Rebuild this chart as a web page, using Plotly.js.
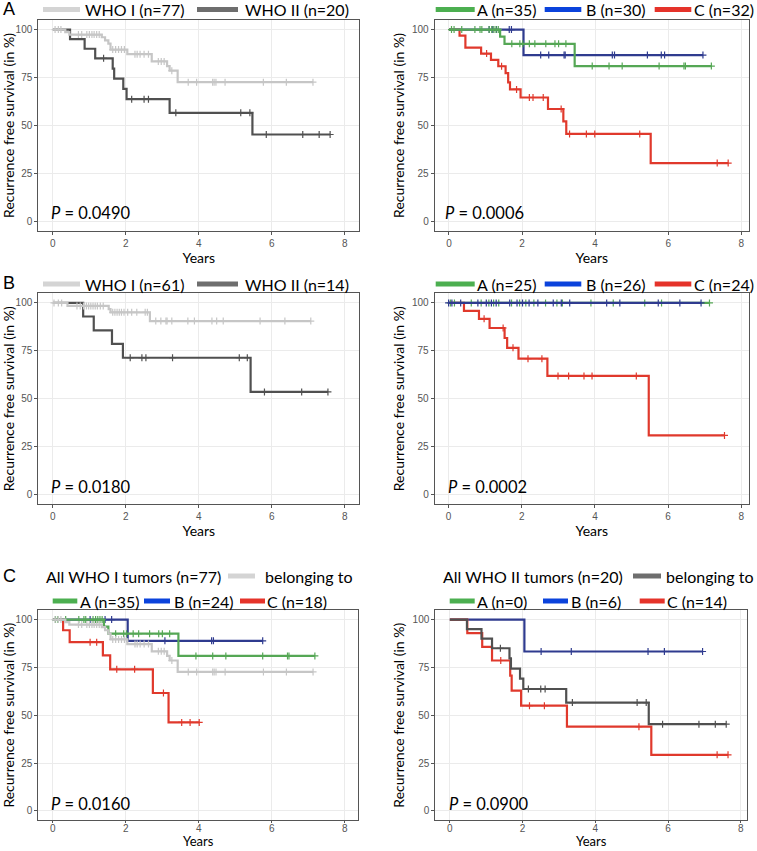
<!DOCTYPE html>
<html><head><meta charset="utf-8">
<script src="https://cdn.plot.ly/plotly-3.0.1.min.js"></script>
<style>html,body{margin:0;padding:0;background:#fff}#chart{width:757px;height:851px}</style>
</head><body><div id="chart"></div>
<script>
// ---------------- DATA (years, % recurrence free) ----------------
// WHO I, all tumours (n=77) - panels A-left and C-left
const who1Times  = [0.34, 0.45, 1.34, 1.43, 1.52, 1.58, 2.04, 2.71, 3.13, 3.20, 3.42];
const who1Surv   = [98.7, 97.4, 96.0, 94.4, 92.7, 89.6, 87.2, 83.4, 81.0, 78.6, 72.6];
const who1Censor = [0.06, 0.15, 0.22, 0.70, 0.79, 0.93, 1.00, 1.07, 1.13, 1.20, 1.27, 1.64, 1.72, 1.80, 1.88, 1.96,
                    2.25, 2.31, 2.39, 2.50, 2.62, 2.89, 2.97, 3.05, 3.26, 3.71, 3.94, 4.38, 4.42, 4.47, 4.72, 5.77, 6.40, 7.13];
// WHO II, all tumours (n=20) - panels A-left and C-right
const who2Times  = [0.47, 0.87, 1.16, 1.64, 1.68, 1.93, 2.02, 3.20, 5.47];
const who2Surv   = [95.0, 90.0, 85.0, 79.7, 74.4, 69.1, 63.7, 56.6, 45.3];
const who2Censor = [1.39, 2.16, 2.50, 2.62, 3.37, 5.15, 5.40, 5.85, 6.85, 7.30, 7.60];
// Groups A (n=35), B (n=30), C (n=32) - panel A-right
const grpATimes  = [1.40, 1.52, 3.44];
const grpASurv   = [96.3, 92.6, 81.0];
const grpACensor = [0.07, 0.14, 0.35, 0.71, 0.85, 0.90, 1.10, 1.17, 1.23, 1.29, 1.35, 1.72, 1.94, 2.02, 2.20, 2.35,
                    2.65, 2.90, 3.00, 3.20, 3.92, 4.38, 4.74, 5.75, 6.43, 6.47, 7.18];
const grpBTimes  = [2.04];
const grpBSurv   = [86.7];
const grpBCensor = [1.10, 1.20, 1.30, 1.65, 1.71, 2.51, 2.73, 3.15, 3.18, 4.47, 4.53, 5.43, 5.81, 5.90, 6.95];
const grpCTimes  = [0.29, 0.45, 0.88, 1.15, 1.35, 1.55, 1.62, 1.67, 1.96, 2.71, 3.13, 3.21, 5.52];
const grpCSurv   = [96.9, 90.6, 87.5, 84.2, 80.9, 77.3, 72.5, 68.8, 64.6, 58.6, 52.2, 45.6, 30.4];
const grpCCensor = [1.03, 1.44, 1.85, 2.20, 2.30, 2.58, 3.07, 3.30, 3.76, 3.99, 5.22, 7.34, 7.64];
// Panel B-left: WHO I (n=61), WHO II (n=14)
const bWho1Times  = [0.40, 1.53, 1.58, 2.66];
const bWho1Surv   = [98.4, 96.8, 95.1, 90.5];
const bWho1Censor = [0.03, 0.15, 0.24, 0.66, 0.75, 0.84, 0.92, 0.98, 1.04, 1.10, 1.16, 1.22, 1.30, 1.38, 1.64, 1.70,
                     1.76, 1.82, 1.88, 1.95, 2.05, 2.16, 2.30, 2.53, 2.59, 2.82, 2.96, 3.10, 3.13, 3.26, 3.70, 3.88,
                     4.36, 4.49, 4.67, 5.68, 6.36, 7.07];
const bWho2Times  = [0.83, 1.12, 1.62, 1.92, 5.42];
const bWho2Surv   = [92.9, 85.7, 78.6, 71.4, 53.6];
const bWho2Censor = [2.12, 2.44, 2.55, 3.28, 5.11, 5.33, 5.80, 6.82, 7.54];
// Panel B-right: A (n=25), B (n=26), C (n=24)
const bGrpATimes  = [];
const bGrpASurv   = [];
const bGrpACensor = [0.05, 0.16, 0.62, 0.89, 1.10, 1.23, 1.37, 1.72, 1.94, 2.11, 2.33, 2.65, 2.96, 3.11, 3.89, 4.50,
                     5.36, 5.82, 7.13];
const bGrpBTimes  = [];
const bGrpBSurv   = [];
const bGrpBCensor = [0.00, 0.09, 0.33, 0.80, 1.03, 1.17, 1.30, 1.67, 1.87, 2.02, 2.20, 2.44, 2.86, 3.08, 3.31, 4.32,
                     4.68, 5.73, 6.32, 6.90];
const bGrpCTimes  = [0.42, 0.83, 1.12, 1.53, 1.60, 1.91, 2.70, 5.47];
const bGrpCSurv   = [95.8, 91.7, 86.9, 81.7, 76.6, 70.9, 61.9, 30.9];
const bGrpCCensor = [0.97, 1.49, 1.76, 2.17, 2.55, 2.99, 3.28, 3.70, 3.92, 5.13, 7.54];
// Panel C-left: WHO I tumours by group B (n=24), C (n=18)
const c1GrpBTimes  = [2.05];
const c1GrpBSurv   = [88.9];
const c1GrpBCensor = [1.02, 1.43, 1.61, 3.07, 4.35, 4.40, 5.75];
const c1GrpCTimes  = [0.28, 0.46, 1.37, 1.57, 2.74, 3.17];
const c1GrpCSurv   = [94.4, 88.2, 81.3, 74.0, 61.6, 46.2];
const c1GrpCCensor = [1.02, 1.20, 1.75, 2.24, 3.03, 3.53, 3.76, 4.01];
// Panel C-right: WHO II tumours by group B (n=6), C (n=14)
const c2GrpBTimes  = [2.05];
const c2GrpBSurv   = [83.3];
const c2GrpBCensor = [2.51, 3.34, 5.45, 5.90, 6.95];
const c2GrpCTimes  = [0.48, 0.89, 1.16, 1.66, 1.70, 1.96, 3.22, 5.54];
const c2GrpCSurv   = [92.9, 85.7, 78.6, 70.7, 62.9, 55.0, 44.0, 29.3];
const c2GrpCCensor = [1.40, 2.19, 2.60, 5.20, 7.35, 7.65];

// text
const panelLetters = ['A', 'B', 'C'];
const pValues = ['0.0490', '0.0006', '0.0180', '0.0002', '0.0160', '0.0900'];
const legendA1 = ['WHO I (n=77)', 'WHO II (n=20)'];
const legendA2 = ['A (n=35)', 'B (n=30)', 'C (n=32)'];
const legendB1 = ['WHO I (n=61)', 'WHO II (n=14)'];
const legendB2 = ['A (n=25)', 'B (n=26)', 'C (n=24)'];
const legendC1 = ['All WHO I tumors (n=77)', 'belonging to', 'A (n=35)', 'B (n=24)', 'C (n=18)'];
const legendC2 = ['All WHO II tumors (n=20)', 'belonging to', 'A (n=0)', 'B (n=6)', 'C (n=14)'];
const xTicks = [0, 2, 4, 6, 8];
const yTicks = [0, 25, 50, 75, 100];
const xTitle = 'Years';
const yTitle = 'Recurrence free survival (in %)';

// ---------------- STYLE ----------------
const W = 757, H = 851;
const PX = p => p / W, PY = p => 1 - p / H;
const col = {light: '#c6c6c6', dark: '#505050', green: '#55a755', navy: '#2f3b8f', red: '#e0392c'};
const leg = {light: '#d4d4d4', dark: '#6e6e6e', green: '#4caf50', blue: '#0b43dc', red: '#e5332a'};
const FONT = 'Lato, "Open Sans", sans-serif';

const frames = [
  {x0: 38.3, x1: 359.3, y0: 20,    y1: 231,   xr: [-0.40, 8.40]},
  {x0: 434.7, x1: 749,  y0: 20,    y1: 231,   xr: [-0.39, 8.21]},
  {x0: 38.3, x1: 359.3, y0: 293.3, y1: 504.3, xr: [-0.40, 8.40]},
  {x0: 434.7, x1: 749,  y0: 293.3, y1: 504.3, xr: [-0.38, 8.21]},
  {x0: 38.3, x1: 358.3, y0: 610,   y1: 820.4, xr: [-0.40, 8.37]},
  {x0: 435.3, x1: 747.3, y0: 610,  y1: 820.4, xr: [-0.40, 8.18]}
];

function stepAt(times, surv, t) {
  let v = 100;
  for (let i = 0; i < times.length; i++) if (times[i] <= t) v = surv[i];
  return v;
}
const traces = [];
function km(times, surv, cens, color, k) {
  const end = Math.max(...cens, ...(times.length ? times : [0]));
  const xs = [0].concat(times, [end]);
  const ys = [100].concat(surv, [surv.length ? surv[surv.length - 1] : 100]);
  const ax = k === 1 ? '' : String(k);
  traces.push({x: xs, y: ys, type: 'scatter', mode: 'lines', line: {shape: 'hv', color: color, width: 2.2},
               xaxis: 'x' + ax, yaxis: 'y' + ax, showlegend: false, hoverinfo: 'skip'});
  traces.push({x: cens, y: cens.map(t => stepAt(times, surv, t)), type: 'scatter', mode: 'markers',
               marker: {symbol: 'cross-thin', size: 5, color: color, line: {color: color, width: 1.2}},
               xaxis: 'x' + ax, yaxis: 'y' + ax, showlegend: false, hoverinfo: 'skip'});
}
// panel 1 (A-left)
km(who2Times, who2Surv, who2Censor, col.dark, 1);
km(who1Times, who1Surv, who1Censor, col.light, 1);
// panel 2 (A-right)
km(grpCTimes, grpCSurv, grpCCensor, col.red, 2);
km(grpBTimes, grpBSurv, grpBCensor, col.navy, 2);
km(grpATimes, grpASurv, grpACensor, col.green, 2);
// panel 3 (B-left)
km(bWho2Times, bWho2Surv, bWho2Censor, col.dark, 3);
km(bWho1Times, bWho1Surv, bWho1Censor, col.light, 3);
// panel 4 (B-right)
km(bGrpCTimes, bGrpCSurv, bGrpCCensor, col.red, 4);
km(bGrpATimes, bGrpASurv, bGrpACensor, col.green, 4);
km(bGrpBTimes, bGrpBSurv, bGrpBCensor, col.navy, 4);
// panel 5 (C-left)
km(c1GrpCTimes, c1GrpCSurv, c1GrpCCensor, col.red, 5);
km(c1GrpBTimes, c1GrpBSurv, c1GrpBCensor, col.navy, 5);
km(grpATimes, grpASurv, grpACensor, col.green, 5);
km(who1Times, who1Surv, who1Censor, col.light, 5);
// panel 6 (C-right)
km(c2GrpBTimes, c2GrpBSurv, c2GrpBCensor, col.navy, 6);
km(c2GrpCTimes, c2GrpCSurv, c2GrpCCensor, col.red, 6);
km(who2Times, who2Surv, who2Censor, col.dark, 6);

const layout = {
  width: W, height: H, margin: {l: 0, r: 0, t: 0, b: 0},
  paper_bgcolor: '#fff', plot_bgcolor: '#fff', showlegend: false,
  font: {family: FONT, color: '#000'},
  annotations: [], shapes: []
};
const titleFont = {family: FONT, size: 14, color: '#000'};
frames.forEach((f, i) => {
  const k = i + 1, s = k === 1 ? '' : String(k);
  const bottomRow = k >= 5;
  layout['xaxis' + s] = {
    domain: [PX(f.x0), PX(f.x1)], range: f.xr, anchor: 'y' + s,
    tickvals: xTicks, ticktext: xTicks.map(String),
    showline: true, mirror: true, linecolor: '#555', linewidth: 1,
    showgrid: true, gridcolor: '#ebebeb', gridwidth: 1, zeroline: false,
    ticks: 'outside', ticklen: bottomRow ? 2 : 3, tickcolor: '#555', tickwidth: 1,
    ticklabelstandoff: bottomRow ? -3 : 0,
    tickfont: {family: 'Liberation Sans, Arial, sans-serif', size: 10, color: '#555'},
    title: bottomRow ? {text: ''} : {text: xTitle, font: titleFont, standoff: 2}
  };
  layout['yaxis' + s] = {
    domain: [PY(f.y1), PY(f.y0)], range: [-5, 105], anchor: 'x' + s,
    tickvals: yTicks, ticktext: yTicks.map(String),
    showline: true, mirror: true, linecolor: '#555', linewidth: 1,
    showgrid: true, gridcolor: '#ebebeb', gridwidth: 1, zeroline: false,
    ticks: 'outside', ticklen: 3, tickcolor: '#555', tickwidth: 1,
    tickfont: {family: 'Liberation Sans, Arial, sans-serif', size: 10, color: '#555'},
    title: {text: yTitle, font: titleFont, standoff: 4}
  };
  if (bottomRow) {
    // bottom row: the axis title sits right at the lower edge of the figure
    layout.annotations.push({text: xTitle, x: PX((f.x0 + f.x1) / 2), y: 0, xref: 'paper', yref: 'paper',
      xanchor: 'center', yanchor: 'bottom', showarrow: false,
      font: {family: FONT, size: 13, color: '#000'}});
  }
});

function text(str, x, y, opts) {
  layout.annotations.push(Object.assign({text: str, x: PX(x), y: PY(y), xref: 'paper', yref: 'paper',
    xanchor: 'left', yanchor: 'middle', showarrow: false,
    font: {family: FONT, size: 16, color: '#000'}}, opts || {}));
}
function swatch(x0, x1, y, color) {
  layout.shapes.push({type: 'line', xref: 'paper', yref: 'paper', x0: PX(x0), x1: PX(x1), y0: PY(y), y1: PY(y),
    line: {color: color, width: 5}});
}
// panel letters
const letterFont = {family: 'Liberation Sans, Arial, sans-serif', size: 18, color: '#000'};
text(panelLetters[0], 1, 9.5, {font: letterFont});
text(panelLetters[1], 1, 283, {font: letterFont});
text(panelLetters[2], 1, 576, {font: letterFont});
// p-values
const pPos = [[49, 212.5], [443, 212.5], [49, 486.5], [446, 486.5], [49, 804], [447, 804]];
pValues.forEach((p, i) => text('<i>P</i> = ' + p, pPos[i][0], pPos[i][1], {font: {family: FONT, size: 16.5, color: '#000'}}));

// legends row A/B
[[9.5, legendA1, legendA2], [284, legendB1, legendB2]].forEach(([y, l1, l2]) => {
  swatch(43, 80, y, leg.light);  text(l1[0], 83, y);
  swatch(197, 238, y, leg.dark); text(l1[1], 243, y);
  swatch(435.7, 474.7, y, leg.green); text(l2[0], 475, y);
  swatch(544.7, 581.3, y, leg.blue);  text(l2[1], 584, y);
  swatch(654.7, 691.3, y, leg.red);   text(l2[2], 692, y);
});
// legends row C
text(legendC1[0], 44, 576);
swatch(228, 255, 576, leg.light);
text(legendC1[1], 263, 576);
swatch(52.7, 77.3, 601, leg.green); text(legendC1[2], 78, 601);
swatch(144, 170, 601, leg.blue);    text(legendC1[3], 172, 601);
swatch(240, 265, 601, leg.red);     text(legendC1[4], 265, 601);

text(legendC2[0], 441, 576);
swatch(633, 661, 576, leg.dark);
text(legendC2[1], 664, 576);
swatch(449.7, 474.7, 601, leg.green); text(legendC2[2], 475, 601);
swatch(543, 568, 601, leg.blue);      text(legendC2[3], 569, 601);
swatch(639.7, 664.7, 601, leg.red);   text(legendC2[4], 665, 601);

Plotly.newPlot('chart', traces, layout, {staticPlot: true, displayModeBar: false});
</script>
</body></html>
